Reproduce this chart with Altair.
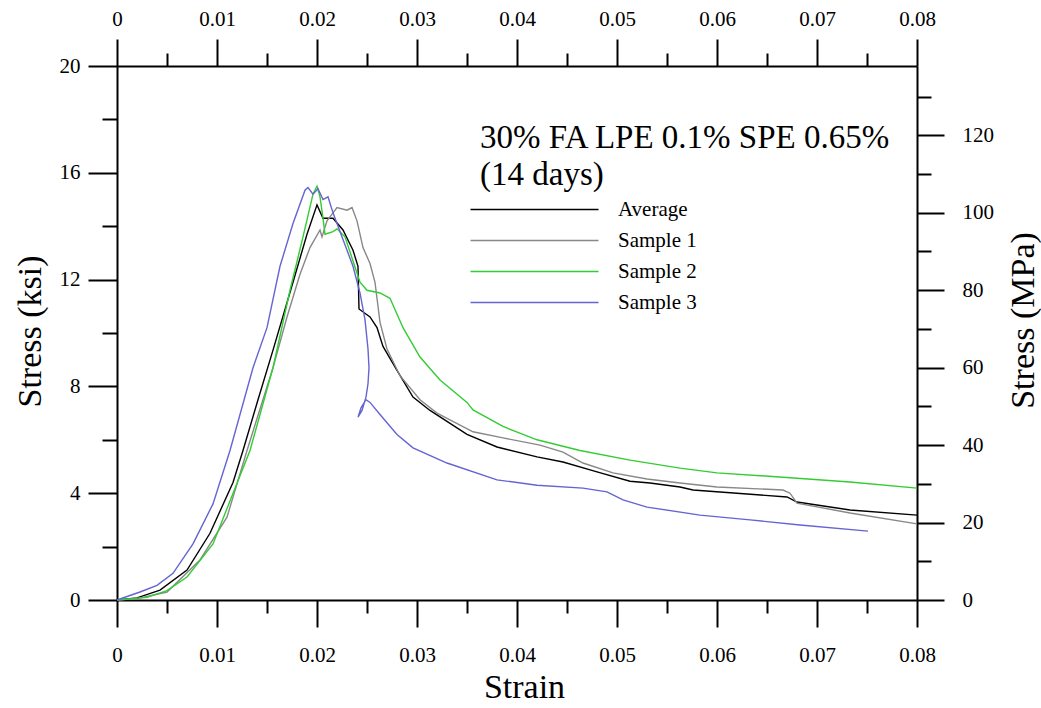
import altair as alt
import pandas as pd

FONT = "Liberation Serif, Times New Roman, serif"

series_names = ["Average", "Sample 1", "Sample 2", "Sample 3"]
series_colors = ["#000000", "#888888", "#33cc33", "#6464d2"]

avg_strain = [0, 0.002, 0.0043, 0.007, 0.0093, 0.0116, 0.0126, 0.0141, 0.0156, 0.0176, 0.019, 0.0200,
              0.0206, 0.0216, 0.0226, 0.0236, 0.0241, 0.0242, 0.0253, 0.026, 0.0266, 0.028,
              0.0296, 0.0313, 0.035, 0.038, 0.042, 0.0446, 0.048, 0.0513, 0.0533, 0.0563,
              0.0576, 0.067, 0.068, 0.0733, 0.08]
avg_ksi = [0, 0.08, 0.37, 1.12, 2.5, 4.4, 5.6, 7.5, 9.36, 11.9, 13.7, 14.8,
           14.3, 14.3, 13.86, 13.1, 12.5, 10.9, 10.6, 10.2, 9.5, 8.6,
           7.6, 7.1, 6.2, 5.73, 5.36, 5.17, 4.8, 4.45, 4.38, 4.23,
           4.12, 3.86, 3.67, 3.37, 3.18]

s1_strain = [0, 0.002, 0.005, 0.0083, 0.011, 0.013, 0.0156, 0.017, 0.0183, 0.0193, 0.0203,
             0.0205, 0.021, 0.022, 0.023, 0.0235, 0.024, 0.0246, 0.0253, 0.0258, 0.0263,
             0.027, 0.0283, 0.0303, 0.032, 0.0356, 0.0386, 0.0423, 0.0446, 0.0466, 0.0496,
             0.053, 0.0563, 0.06, 0.0666, 0.0673, 0.068, 0.0733, 0.08]
s1_ksi = [0, 0.05, 0.3, 1.5, 3.1, 5.6, 8.7, 10.6, 12.2, 13.2, 13.86,
          13.6, 14.2, 14.7, 14.6, 14.7, 14.2, 13.2, 12.6, 11.9, 10.4,
          9.4, 8.4, 7.5, 7.0, 6.3, 6.07, 5.8, 5.54, 5.13, 4.76,
          4.53, 4.38, 4.23, 4.12, 4.0, 3.63, 3.26, 2.85]

s2_strain = [0, 0.003, 0.005, 0.007, 0.0096, 0.0133, 0.0156, 0.0173, 0.0186, 0.0196, 0.02,
             0.0203, 0.0206, 0.0208, 0.0216, 0.022, 0.0228, 0.0236, 0.0243, 0.025, 0.0263,
             0.0273, 0.0286, 0.0303, 0.0323, 0.035, 0.0356, 0.0386, 0.042, 0.0463, 0.0513,
             0.0563, 0.06, 0.0666, 0.0733, 0.08]
s2_ksi = [0, 0.1, 0.35, 0.86, 2.1, 5.6, 8.7, 11.6, 13.6, 15.2, 15.5,
          15.1, 14.3, 13.7, 13.8, 13.9, 13.6, 12.7, 11.9, 11.6, 11.5,
          11.3, 10.2, 9.1, 8.24, 7.4, 7.12, 6.5, 6.0, 5.6, 5.24,
          4.94, 4.76, 4.6, 4.42, 4.19]

s3_strain = [0, 0.0023, 0.004, 0.0056, 0.0076, 0.0096, 0.0113, 0.0136, 0.015, 0.0163, 0.0176,
             0.0188, 0.0191, 0.0196, 0.0201, 0.0206, 0.0211, 0.0216, 0.0226, 0.0236, 0.0243,
             0.0248, 0.0251, 0.0252, 0.0251, 0.0249, 0.0245, 0.0241, 0.0244, 0.0249, 0.0253,
             0.0263, 0.028, 0.0296, 0.033, 0.038, 0.042, 0.0466, 0.049, 0.0506, 0.053,
             0.0583, 0.0633, 0.0683, 0.0751]
s3_ksi = [0, 0.3, 0.55, 1.0, 2.1, 3.6, 5.6, 8.7, 10.2, 12.5, 14.1,
          15.35, 15.45, 15.2, 15.4, 15.0, 15.1, 14.5, 13.5, 12.5, 11.5,
          10.5, 9.4, 8.7, 8.1, 7.6, 7.1, 6.85, 7.2, 7.5, 7.4,
          6.95, 6.2, 5.7, 5.13, 4.5, 4.3, 4.19, 4.05, 3.75, 3.48,
          3.18, 3.0, 2.81, 2.58]

major_x = [0, 0.01, 0.02, 0.03, 0.04, 0.05, 0.06, 0.07, 0.08]
minor_x = [0.005, 0.015, 0.025, 0.035, 0.045, 0.055, 0.065, 0.075]
major_ksi = [0, 4, 8, 12, 16, 20]
minor_ksi = [2, 6, 10, 14, 18]
major_mpa = [0, 20, 40, 60, 80, 100, 120]
minor_mpa = [10, 30, 50, 70, 90, 110, 130]

note_lines = ["30% FA LPE 0.1% SPE 0.65%", "(14 days)"]
note_strain = [0.0363, 0.0363]
note_ksi = [16.93, 15.54]

KSI_TO_MPA = 6.894757
X_DOMAIN = [0, 0.08]
KSI_DOMAIN = [0, 20]
MPA_DOMAIN = [0, 20 * KSI_TO_MPA]

rows = []
for name, xs, ys in [("Average", avg_strain, avg_ksi), ("Sample 1", s1_strain, s1_ksi),
                     ("Sample 2", s2_strain, s2_ksi), ("Sample 3", s3_strain, s3_ksi)]:
    for i, (x, y) in enumerate(zip(xs, ys)):
        rows.append({"series": name, "idx": i, "strain": x, "ksi": y})
df = pd.DataFrame(rows)

frame_df = pd.DataFrame({"strain": X_DOMAIN, "ksi": KSI_DOMAIN, "mpa": MPA_DOMAIN})
note_df = pd.DataFrame({"text": note_lines, "strain": note_strain, "ksi": note_ksi})

xs_scale = alt.Scale(domain=X_DOMAIN, nice=False, zero=False)
ksi_scale = alt.Scale(domain=KSI_DOMAIN, nice=False, zero=False)
mpa_scale = alt.Scale(domain=MPA_DOMAIN, nice=False, zero=False)

common = dict(grid=False, labelFlush=False, labelOverlap=False, labelBound=False,
              tickWidth=2, domainWidth=2, labelFontSize=21, titleFontSize=34,
              labelFont=FONT, titleFont=FONT)

lines = alt.Chart(df).mark_line(strokeWidth=1.4).encode(
    x=alt.X("strain:Q", scale=xs_scale,
            axis=alt.Axis(orient="bottom", values=major_x, format="~g", tickSize=27,
                          labelPadding=34, labelBaseline="alphabetic",
                          title="Strain", titleX=407, titleY=97, titleAlign="center",
                          titleBaseline="alphabetic", titleAngle=0, **common)),
    y=alt.Y("ksi:Q", scale=ksi_scale,
            axis=alt.Axis(orient="left", values=major_ksi, format="d", tickSize=29,
                          labelPadding=8, labelBaseline="middle",
                          title="Stress (ksi)", titleX=-77, titleY=265, titleAlign="center",
                          titleBaseline="alphabetic", titleAngle=270, **common)),
    color=alt.Color("series:N", scale=alt.Scale(domain=series_names, range=series_colors),
                    legend=alt.Legend(orient="none", legendX=407, legendY=133, title=None,
                                      symbolType="M-32,0L32,0", symbolSize=16,
                                      symbolStrokeWidth=1.5, labelOffset=73,
                                      labelFontSize=21, labelFont=FONT, labelColor="black",
                                      rowPadding=9, padding=0)),
    order="idx:Q",
)

notes = alt.Chart(note_df).mark_text(font=FONT, fontSize=33, align="left",
                                     baseline="alphabetic", color="black").encode(
    x=alt.X("strain:Q", scale=xs_scale),
    y=alt.Y("ksi:Q", scale=ksi_scale),
    text="text:N",
)

main = alt.layer(lines, notes)

minor_lb = alt.Chart(frame_df).mark_point(opacity=0).encode(
    x=alt.X("strain:Q", scale=xs_scale,
            axis=alt.Axis(orient="bottom", values=minor_x, tickSize=13, labels=False,
                          domain=False, title=None, grid=False, tickWidth=2)),
    y=alt.Y("ksi:Q", scale=ksi_scale,
            axis=alt.Axis(orient="left", values=minor_ksi, tickSize=15, labels=False,
                          domain=False, title=None, grid=False, tickWidth=2)),
)

major_tr = alt.Chart(frame_df).mark_point(opacity=0).encode(
    x=alt.X("strain:Q", scale=xs_scale,
            axis=alt.Axis(orient="top", values=major_x, format="~g", tickSize=27,
                          labelPadding=14, labelBaseline="alphabetic", title=None, **common)),
    y=alt.Y("mpa:Q", scale=mpa_scale,
            axis=alt.Axis(orient="right", values=major_mpa, format="d", tickSize=27,
                          labelPadding=18, labelBaseline="middle",
                          title="Stress (MPa)", titleX=116, titleY=254, titleAlign="center",
                          titleBaseline="alphabetic", titleAngle=270, **common)),
)

minor_tr = alt.Chart(frame_df).mark_point(opacity=0).encode(
    x=alt.X("strain:Q", scale=xs_scale,
            axis=alt.Axis(orient="top", values=minor_x, tickSize=13, labels=False,
                          domain=False, title=None, grid=False, tickWidth=2)),
    y=alt.Y("mpa:Q", scale=mpa_scale,
            axis=alt.Axis(orient="right", values=minor_mpa, tickSize=14, labels=False,
                          domain=False, title=None, grid=False, tickWidth=2)),
)

chart = alt.layer(main, minor_lb, major_tr, minor_tr).resolve_scale(
    x="independent", y="independent"
).properties(
    width=800, height=534,
    autosize=alt.AutoSizeParams(type="none"),
    padding={"left": 117, "top": 66, "right": 124, "bottom": 108},
    background="white",
).configure_view(stroke=None).configure_axis(
    labelFont=FONT, titleFont=FONT, labelColor="black", titleColor="black",
    tickColor="black", domainColor="black", titleFontWeight="normal",
).configure_text(font=FONT).configure_legend(labelFont=FONT)

chart.save("out.html", embed_options={"renderer": "svg", "actions": False})
